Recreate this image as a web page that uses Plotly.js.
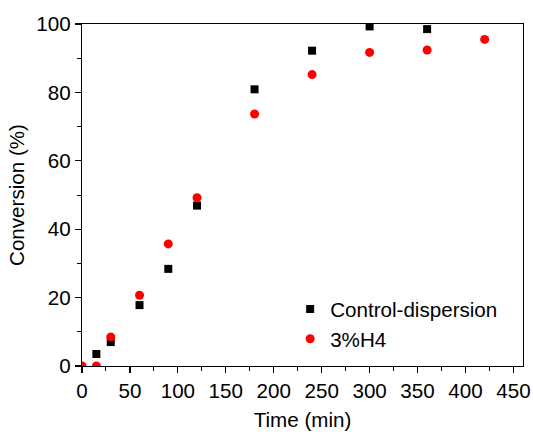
<!DOCTYPE html>
<html>
<head>
<meta charset="utf-8">
<script src="https://cdn.plot.ly/plotly-3.0.1.min.js"></script>
<style>html,body{margin:0;padding:0;background:#fff;}#chart{width:533px;height:432px;}</style>
</head>
<body>
<div id="chart"></div>
<script>
const ctrlTime = [15, 30, 60, 90, 120, 180, 240, 300, 360];
const ctrlConv = [3.5, 7.0, 17.8, 28.4, 46.9, 80.9, 92.2, 99.3, 98.5];
const h4Time = [0, 15, 30, 60, 90, 120, 180, 240, 300, 360, 420];
const h4Conv = [0, 0, 8.5, 20.7, 35.7, 49.2, 73.7, 85.2, 91.7, 92.4, 95.5];
const seriesNames = ["Control-dispersion", "3%H4"];

const font = "Arial, 'Liberation Sans', sans-serif";
const fs = 20.6;

const traces = [
  {x: ctrlTime, y: ctrlConv, name: seriesNames[0], type: "scatter", mode: "markers",
   marker: {symbol: "square", size: 8, color: "#000000"}},
  {x: h4Time, y: h4Conv, name: seriesNames[1], type: "scatter", mode: "markers",
   marker: {symbol: "circle", size: 9, color: "#ff0000"}}
];

const layout = {
  width: 533, height: 432,
  margin: {l: 82, r: 10, t: 24, b: 66, pad: 0},
  paper_bgcolor: "#ffffff", plot_bgcolor: "#ffffff",
  font: {family: font, size: fs, color: "#000000"},
  showlegend: true,
  legend: {x: 0.472, y: 0.225, xanchor: "left", yanchor: "top", bgcolor: "rgba(0,0,0,0)",
           font: {family: font, size: fs, color: "#000"}, tracegroupgap: 0},
  xaxis: {
    range: [0, 460], tickvals: [0, 50, 100, 150, 200, 250, 300, 350, 400, 450],
    showgrid: false, zeroline: false, showline: true, linecolor: "#000", linewidth: 1.2,
    mirror: true, ticks: "outside", ticklen: 6, tickwidth: 1.2, tickcolor: "#000",
    minor: {dtick: 25, tick0: 0, ticks: "outside", ticklen: 3.5, tickwidth: 1, tickcolor: "#000", showgrid: false},
    title: {text: "Time (min)", font: {family: font, size: fs}, standoff: 11},
    tickfont: {family: font, size: fs}
  },
  yaxis: {
    range: [0, 100], tickvals: [0, 20, 40, 60, 80, 100],
    showgrid: false, zeroline: false, showline: true, linecolor: "#000", linewidth: 1.2,
    mirror: true, ticks: "outside", ticklen: 6, tickwidth: 1.2, tickcolor: "#000",
    minor: {dtick: 10, tick0: 0, ticks: "outside", ticklen: 3.5, tickwidth: 1, tickcolor: "#000", showgrid: false},
    title: {text: "Conversion (%)", font: {family: font, size: fs}, standoff: 6},
    tickfont: {family: font, size: fs}
  }
};

Plotly.newPlot("chart", traces, layout, {displayModeBar: false, staticPlot: true});
</script>
</body>
</html>
